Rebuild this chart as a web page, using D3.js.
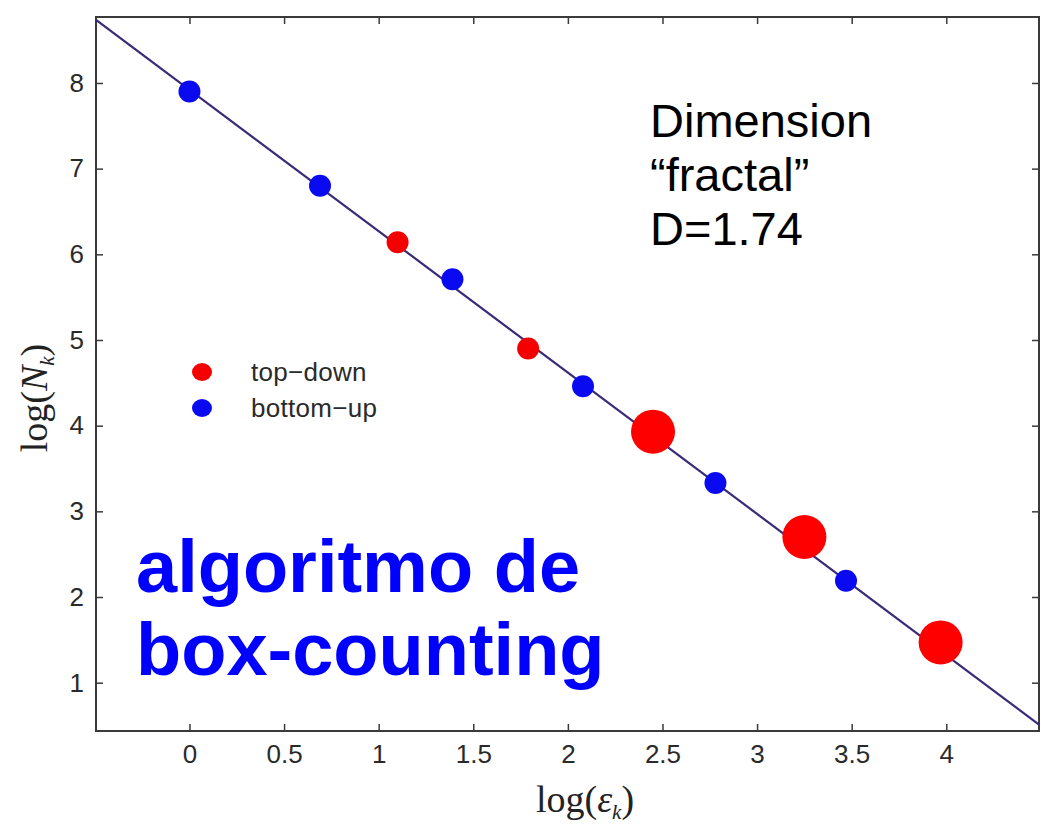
<!DOCTYPE html>
<html>
<head>
<meta charset="utf-8">
<script src="https://cdn.jsdelivr.net/npm/d3@7"></script>
<style>
    body { margin: 0; background: #fff; }
    svg { display: block; }
</style>
</head>
<body>
<svg id="chart" width="1041" height="824"></svg>
<script>
// box-counting data
var bottomUpX = [0, 0.69, 1.39, 2.08, 2.78, 3.47];
var bottomUpY = [7.9, 6.8, 5.71, 4.46, 3.33, 2.19];
var topDownX = [1.1, 1.79];
var topDownY = [6.14, 4.9];
var bigRedX = [2.45, 3.25, 3.97];
var bigRedY = [3.93, 2.7, 1.47];
var xTicks = [0, 0.5, 1, 1.5, 2, 2.5, 3, 3.5, 4];
var yTicks = [1, 2, 3, 4, 5, 6, 7, 8];
var fitIntercept = 7.92;
var fitSlope = -1.65;
var legendLabels = ["top\u2212down", "bottom\u2212up"];
var noteLines = ["Dimension", "\u201Cfractal\u201D", "D=1.74"];
var titleLines = ["algoritmo de", "box-counting"];

var plotLeft = 96, plotRight = 1039, plotTop = 17, plotBottom = 731;

var x = d3.scaleLinear().domain([-0.494, 4.49]).range([plotLeft, plotRight]);
var y = d3.scaleLinear().domain([0.436, 8.77]).range([plotBottom, plotTop]);

var svg = d3.select("#chart");
var axisColor = "#3a3a3a";

// box
svg.append("rect")
    .attr("x", plotLeft).attr("y", plotTop)
    .attr("width", plotRight - plotLeft).attr("height", plotBottom - plotTop)
    .attr("fill", "none")
    .attr("stroke", axisColor)
    .attr("stroke-width", 2);

// axes, ticks inside on all sides
var axisFont = "'Liberation Sans', Arial, sans-serif";
function styleAxis(g)
{
    g.select(".domain").remove();
    g.selectAll(".tick line").attr("stroke", axisColor).attr("stroke-width", 1.5);
    g.selectAll(".tick text")
        .attr("fill", "#2a2a2a")
        .style("font-family", axisFont)
        .style("font-size", "26px");
}

svg.append("g")
    .attr("transform", "translate(0," + plotBottom + ")")
    .call(d3.axisBottom(x).tickValues(xTicks).tickSize(-7).tickPadding(14).tickFormat(d3.format("")))
    .call(styleAxis);

svg.append("g")
    .attr("transform", "translate(0," + plotTop + ")")
    .call(d3.axisTop(x).tickValues(xTicks).tickSize(-7).tickFormat(""))
    .call(styleAxis);

svg.append("g")
    .attr("transform", "translate(" + plotLeft + ",0)")
    .call(d3.axisLeft(y).tickValues(yTicks).tickSize(-7).tickPadding(12))
    .call(styleAxis);

svg.append("g")
    .attr("transform", "translate(" + plotRight + ",0)")
    .call(d3.axisRight(y).tickValues(yTicks).tickSize(-7).tickFormat(""))
    .call(styleAxis);

// fitted line
var xd = x.domain();
var fitPoints = [xd[0], xd[1]].map(function(v) { return [v, fitIntercept + fitSlope * v]; });
svg.append("path")
    .datum(fitPoints)
    .attr("d", d3.line().x(function(d) { return x(d[0]); }).y(function(d) { return y(d[1]); }))
    .attr("fill", "none")
    .attr("stroke", "#3b2a78")
    .attr("stroke-width", 2.2);

// points
function drawPoints(xs, ys, r, color)
{
    svg.append("g").selectAll("circle")
        .data(xs)
        .enter().append("circle")
        .attr("cx", function(d) { return x(d); })
        .attr("cy", function(d, i) { return y(ys[i]); })
        .attr("r", r)
        .attr("fill", color);
}
drawPoints(bottomUpX, bottomUpY, 11, "#0a0af0");
drawPoints(topDownX, topDownY, 11, "#f50000");
drawPoints(bigRedX, bigRedY, 22, "#ff0000");

// legend
var legendColors = ["#f50000", "#0a0af0"];
var legend = svg.append("g").attr("transform", "translate(202,372)");
legend.selectAll("ellipse")
    .data(legendLabels)
    .enter().append("ellipse")
    .attr("cx", 0)
    .attr("cy", function(d, i) { return i * 36; })
    .attr("rx", 10).attr("ry", 9)
    .attr("fill", function(d, i) { return legendColors[i]; });
legend.selectAll("text")
    .data(legendLabels)
    .enter().append("text")
    .attr("x", 49)
    .attr("y", function(d, i) { return i * 36 + 9; })
    .attr("fill", "#2a2a2a")
    .style("font-family", axisFont)
    .style("font-size", "26px")
    .style("letter-spacing", "0.3px")
    .text(function(d) { return d; });

// axis labels
var serif = "'Liberation Serif', 'Times New Roman', serif";
var xLabel = svg.append("text")
    .attr("x", 585).attr("y", 812)
    .attr("text-anchor", "middle")
    .attr("fill", "#222")
    .style("font-family", serif)
    .style("font-size", "38px");
xLabel.append("tspan").text("log(");
xLabel.append("tspan").style("font-style", "italic").text("\u03B5");
xLabel.append("tspan").style("font-style", "italic").style("font-size", "21px").attr("dy", 7).text("k");
xLabel.append("tspan").attr("dy", -7).text(")");

var yLabel = svg.append("text")
    .attr("transform", "translate(47,398) rotate(-90)")
    .attr("text-anchor", "middle")
    .attr("fill", "#222")
    .style("font-family", serif)
    .style("font-size", "38px");
yLabel.append("tspan").text("log(");
yLabel.append("tspan").style("font-style", "italic").text("N");
yLabel.append("tspan").style("font-style", "italic").style("font-size", "21px").attr("dy", 7).text("k");
yLabel.append("tspan").attr("dy", -7).text(")");

// annotation
svg.append("g").selectAll("text")
    .data(noteLines)
    .enter().append("text")
    .attr("x", 650)
    .attr("y", function(d, i) { return 137 + i * 54; })
    .attr("fill", "#000")
    .style("font-family", axisFont)
    .style("font-size", "47px")
    .text(function(d) { return d; });

svg.append("g").selectAll("text")
    .data(titleLines)
    .enter().append("text")
    .attr("x", 136)
    .attr("y", function(d, i) { return 592 + i * 83; })
    .attr("fill", "#0000ff")
    .style("font-family", axisFont)
    .style("font-weight", "bold")
    .style("font-size", "74px")
    .text(function(d) { return d; });
</script>
</body>
</html>
